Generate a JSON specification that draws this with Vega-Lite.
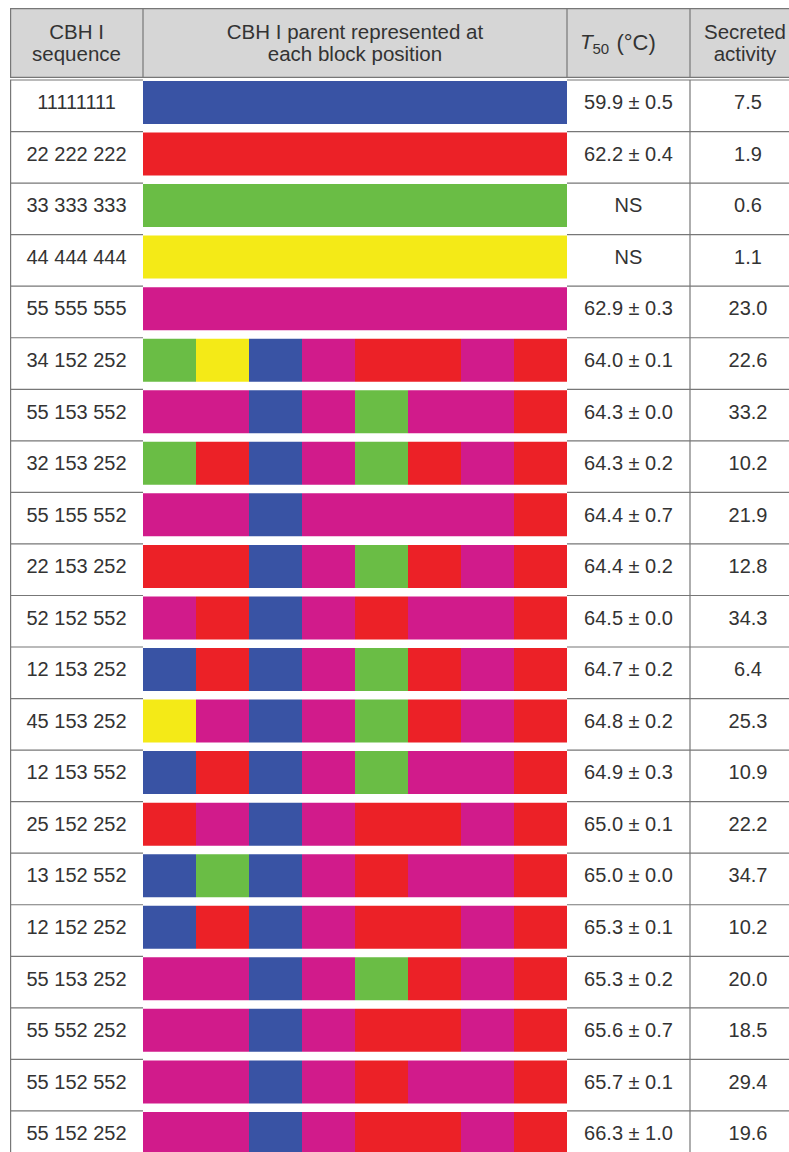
{
  "$schema": "https://vega.github.io/schema/vega-lite/v6.json",
  "padding": {"left": 9, "top": 7, "right": 0, "bottom": 0},
  "background": "white",
  "spacing": 0,
  "config": {
    "view": {"stroke": null},
    "text": {"font": "Liberation Sans", "color": "#333333"},
    "rule": {"color": "#777777", "strokeWidth": 1.2}
  },
  "datasets": {
    "rows": [
      {"seq": "11111111", "label": "11111111", "t50": "59.9 ± 0.5", "act": 7.5},
      {"seq": "22222222", "label": "22 222 222", "t50": "62.2 ± 0.4", "act": 1.9},
      {"seq": "33333333", "label": "33 333 333", "t50": "NS", "act": 0.6},
      {"seq": "44444444", "label": "44 444 444", "t50": "NS", "act": 1.1},
      {"seq": "55555555", "label": "55 555 555", "t50": "62.9 ± 0.3", "act": 23.0},
      {"seq": "34152252", "label": "34 152 252", "t50": "64.0 ± 0.1", "act": 22.6},
      {"seq": "55153552", "label": "55 153 552", "t50": "64.3 ± 0.0", "act": 33.2},
      {"seq": "32153252", "label": "32 153 252", "t50": "64.3 ± 0.2", "act": 10.2},
      {"seq": "55155552", "label": "55 155 552", "t50": "64.4 ± 0.7", "act": 21.9},
      {"seq": "22153252", "label": "22 153 252", "t50": "64.4 ± 0.2", "act": 12.8},
      {"seq": "52152552", "label": "52 152 552", "t50": "64.5 ± 0.0", "act": 34.3},
      {"seq": "12153252", "label": "12 153 252", "t50": "64.7 ± 0.2", "act": 6.4},
      {"seq": "45153252", "label": "45 153 252", "t50": "64.8 ± 0.2", "act": 25.3},
      {"seq": "12153552", "label": "12 153 552", "t50": "64.9 ± 0.3", "act": 10.9},
      {"seq": "25152252", "label": "25 152 252", "t50": "65.0 ± 0.1", "act": 22.2},
      {"seq": "13152552", "label": "13 152 552", "t50": "65.0 ± 0.0", "act": 34.7},
      {"seq": "12152252", "label": "12 152 252", "t50": "65.3 ± 0.1", "act": 10.2},
      {"seq": "55153252", "label": "55 153 252", "t50": "65.3 ± 0.2", "act": 20.0},
      {"seq": "55552252", "label": "55 552 252", "t50": "65.6 ± 0.7", "act": 18.5},
      {"seq": "55152552", "label": "55 152 552", "t50": "65.7 ± 0.1", "act": 29.4},
      {"seq": "55152252", "label": "55 152 252", "t50": "66.3 ± 1.0", "act": 19.6}
    ],
    "cells": [
      {"seq": "11111111", "block": 1, "parent": 1}, {"seq": "11111111", "block": 2, "parent": 1}, {"seq": "11111111", "block": 3, "parent": 1}, {"seq": "11111111", "block": 4, "parent": 1}, {"seq": "11111111", "block": 5, "parent": 1}, {"seq": "11111111", "block": 6, "parent": 1}, {"seq": "11111111", "block": 7, "parent": 1}, {"seq": "11111111", "block": 8, "parent": 1},
      {"seq": "22222222", "block": 1, "parent": 2}, {"seq": "22222222", "block": 2, "parent": 2}, {"seq": "22222222", "block": 3, "parent": 2}, {"seq": "22222222", "block": 4, "parent": 2}, {"seq": "22222222", "block": 5, "parent": 2}, {"seq": "22222222", "block": 6, "parent": 2}, {"seq": "22222222", "block": 7, "parent": 2}, {"seq": "22222222", "block": 8, "parent": 2},
      {"seq": "33333333", "block": 1, "parent": 3}, {"seq": "33333333", "block": 2, "parent": 3}, {"seq": "33333333", "block": 3, "parent": 3}, {"seq": "33333333", "block": 4, "parent": 3}, {"seq": "33333333", "block": 5, "parent": 3}, {"seq": "33333333", "block": 6, "parent": 3}, {"seq": "33333333", "block": 7, "parent": 3}, {"seq": "33333333", "block": 8, "parent": 3},
      {"seq": "44444444", "block": 1, "parent": 4}, {"seq": "44444444", "block": 2, "parent": 4}, {"seq": "44444444", "block": 3, "parent": 4}, {"seq": "44444444", "block": 4, "parent": 4}, {"seq": "44444444", "block": 5, "parent": 4}, {"seq": "44444444", "block": 6, "parent": 4}, {"seq": "44444444", "block": 7, "parent": 4}, {"seq": "44444444", "block": 8, "parent": 4},
      {"seq": "55555555", "block": 1, "parent": 5}, {"seq": "55555555", "block": 2, "parent": 5}, {"seq": "55555555", "block": 3, "parent": 5}, {"seq": "55555555", "block": 4, "parent": 5}, {"seq": "55555555", "block": 5, "parent": 5}, {"seq": "55555555", "block": 6, "parent": 5}, {"seq": "55555555", "block": 7, "parent": 5}, {"seq": "55555555", "block": 8, "parent": 5},
      {"seq": "34152252", "block": 1, "parent": 3}, {"seq": "34152252", "block": 2, "parent": 4}, {"seq": "34152252", "block": 3, "parent": 1}, {"seq": "34152252", "block": 4, "parent": 5}, {"seq": "34152252", "block": 5, "parent": 2}, {"seq": "34152252", "block": 6, "parent": 2}, {"seq": "34152252", "block": 7, "parent": 5}, {"seq": "34152252", "block": 8, "parent": 2},
      {"seq": "55153552", "block": 1, "parent": 5}, {"seq": "55153552", "block": 2, "parent": 5}, {"seq": "55153552", "block": 3, "parent": 1}, {"seq": "55153552", "block": 4, "parent": 5}, {"seq": "55153552", "block": 5, "parent": 3}, {"seq": "55153552", "block": 6, "parent": 5}, {"seq": "55153552", "block": 7, "parent": 5}, {"seq": "55153552", "block": 8, "parent": 2},
      {"seq": "32153252", "block": 1, "parent": 3}, {"seq": "32153252", "block": 2, "parent": 2}, {"seq": "32153252", "block": 3, "parent": 1}, {"seq": "32153252", "block": 4, "parent": 5}, {"seq": "32153252", "block": 5, "parent": 3}, {"seq": "32153252", "block": 6, "parent": 2}, {"seq": "32153252", "block": 7, "parent": 5}, {"seq": "32153252", "block": 8, "parent": 2},
      {"seq": "55155552", "block": 1, "parent": 5}, {"seq": "55155552", "block": 2, "parent": 5}, {"seq": "55155552", "block": 3, "parent": 1}, {"seq": "55155552", "block": 4, "parent": 5}, {"seq": "55155552", "block": 5, "parent": 5}, {"seq": "55155552", "block": 6, "parent": 5}, {"seq": "55155552", "block": 7, "parent": 5}, {"seq": "55155552", "block": 8, "parent": 2},
      {"seq": "22153252", "block": 1, "parent": 2}, {"seq": "22153252", "block": 2, "parent": 2}, {"seq": "22153252", "block": 3, "parent": 1}, {"seq": "22153252", "block": 4, "parent": 5}, {"seq": "22153252", "block": 5, "parent": 3}, {"seq": "22153252", "block": 6, "parent": 2}, {"seq": "22153252", "block": 7, "parent": 5}, {"seq": "22153252", "block": 8, "parent": 2},
      {"seq": "52152552", "block": 1, "parent": 5}, {"seq": "52152552", "block": 2, "parent": 2}, {"seq": "52152552", "block": 3, "parent": 1}, {"seq": "52152552", "block": 4, "parent": 5}, {"seq": "52152552", "block": 5, "parent": 2}, {"seq": "52152552", "block": 6, "parent": 5}, {"seq": "52152552", "block": 7, "parent": 5}, {"seq": "52152552", "block": 8, "parent": 2},
      {"seq": "12153252", "block": 1, "parent": 1}, {"seq": "12153252", "block": 2, "parent": 2}, {"seq": "12153252", "block": 3, "parent": 1}, {"seq": "12153252", "block": 4, "parent": 5}, {"seq": "12153252", "block": 5, "parent": 3}, {"seq": "12153252", "block": 6, "parent": 2}, {"seq": "12153252", "block": 7, "parent": 5}, {"seq": "12153252", "block": 8, "parent": 2},
      {"seq": "45153252", "block": 1, "parent": 4}, {"seq": "45153252", "block": 2, "parent": 5}, {"seq": "45153252", "block": 3, "parent": 1}, {"seq": "45153252", "block": 4, "parent": 5}, {"seq": "45153252", "block": 5, "parent": 3}, {"seq": "45153252", "block": 6, "parent": 2}, {"seq": "45153252", "block": 7, "parent": 5}, {"seq": "45153252", "block": 8, "parent": 2},
      {"seq": "12153552", "block": 1, "parent": 1}, {"seq": "12153552", "block": 2, "parent": 2}, {"seq": "12153552", "block": 3, "parent": 1}, {"seq": "12153552", "block": 4, "parent": 5}, {"seq": "12153552", "block": 5, "parent": 3}, {"seq": "12153552", "block": 6, "parent": 5}, {"seq": "12153552", "block": 7, "parent": 5}, {"seq": "12153552", "block": 8, "parent": 2},
      {"seq": "25152252", "block": 1, "parent": 2}, {"seq": "25152252", "block": 2, "parent": 5}, {"seq": "25152252", "block": 3, "parent": 1}, {"seq": "25152252", "block": 4, "parent": 5}, {"seq": "25152252", "block": 5, "parent": 2}, {"seq": "25152252", "block": 6, "parent": 2}, {"seq": "25152252", "block": 7, "parent": 5}, {"seq": "25152252", "block": 8, "parent": 2},
      {"seq": "13152552", "block": 1, "parent": 1}, {"seq": "13152552", "block": 2, "parent": 3}, {"seq": "13152552", "block": 3, "parent": 1}, {"seq": "13152552", "block": 4, "parent": 5}, {"seq": "13152552", "block": 5, "parent": 2}, {"seq": "13152552", "block": 6, "parent": 5}, {"seq": "13152552", "block": 7, "parent": 5}, {"seq": "13152552", "block": 8, "parent": 2},
      {"seq": "12152252", "block": 1, "parent": 1}, {"seq": "12152252", "block": 2, "parent": 2}, {"seq": "12152252", "block": 3, "parent": 1}, {"seq": "12152252", "block": 4, "parent": 5}, {"seq": "12152252", "block": 5, "parent": 2}, {"seq": "12152252", "block": 6, "parent": 2}, {"seq": "12152252", "block": 7, "parent": 5}, {"seq": "12152252", "block": 8, "parent": 2},
      {"seq": "55153252", "block": 1, "parent": 5}, {"seq": "55153252", "block": 2, "parent": 5}, {"seq": "55153252", "block": 3, "parent": 1}, {"seq": "55153252", "block": 4, "parent": 5}, {"seq": "55153252", "block": 5, "parent": 3}, {"seq": "55153252", "block": 6, "parent": 2}, {"seq": "55153252", "block": 7, "parent": 5}, {"seq": "55153252", "block": 8, "parent": 2},
      {"seq": "55552252", "block": 1, "parent": 5}, {"seq": "55552252", "block": 2, "parent": 5}, {"seq": "55552252", "block": 3, "parent": 1}, {"seq": "55552252", "block": 4, "parent": 5}, {"seq": "55552252", "block": 5, "parent": 2}, {"seq": "55552252", "block": 6, "parent": 2}, {"seq": "55552252", "block": 7, "parent": 5}, {"seq": "55552252", "block": 8, "parent": 2},
      {"seq": "55152552", "block": 1, "parent": 5}, {"seq": "55152552", "block": 2, "parent": 5}, {"seq": "55152552", "block": 3, "parent": 1}, {"seq": "55152552", "block": 4, "parent": 5}, {"seq": "55152552", "block": 5, "parent": 2}, {"seq": "55152552", "block": 6, "parent": 5}, {"seq": "55152552", "block": 7, "parent": 5}, {"seq": "55152552", "block": 8, "parent": 2},
      {"seq": "55152252", "block": 1, "parent": 5}, {"seq": "55152252", "block": 2, "parent": 5}, {"seq": "55152252", "block": 3, "parent": 1}, {"seq": "55152252", "block": 4, "parent": 5}, {"seq": "55152252", "block": 5, "parent": 2}, {"seq": "55152252", "block": 6, "parent": 2}, {"seq": "55152252", "block": 7, "parent": 5}, {"seq": "55152252", "block": 8, "parent": 2}
    ]
  },
  "vconcat": [
    {
      "spacing": 0,
      "bounds": "flush",
      "hconcat": [
        {
          "width": 133, "height": 70,
          "view": {"fill": "#d6d6d6", "stroke": null},
          "data": {"values": [{"label": "CBH I\nsequence"}]},
          "layer": [
            {"mark": {"type": "rule"}, "encoding": {"y": {"value": 0.6}}},
            {"mark": {"type": "rule"}, "encoding": {"y": {"value": 69.4}}},
            {"mark": {"type": "rule"}, "encoding": {"x": {"value": 0.6}}},
            {"mark": {"type": "text", "lineBreak": "\n", "fontSize": 20.5, "lineHeight": 22, "yOffset": -10}, "encoding": {"text": {"field": "label"}}}
          ]
        },
        {
          "width": 424, "height": 70,
          "view": {"fill": "#d6d6d6", "stroke": null},
          "data": {"values": [{"label": "CBH I parent represented at\neach block position"}]},
          "layer": [
            {"mark": {"type": "rule"}, "encoding": {"y": {"value": 0.6}}},
            {"mark": {"type": "rule"}, "encoding": {"y": {"value": 69.4}}},
            {"mark": {"type": "rule"}, "encoding": {"x": {"value": 0}}},
            {"mark": {"type": "text", "lineBreak": "\n", "fontSize": 20.5, "lineHeight": 22, "yOffset": -10}, "encoding": {"text": {"field": "label"}}}
          ]
        },
        {
          "width": 123, "height": 70,
          "view": {"fill": "#d6d6d6", "stroke": null},
          "data": {"values": [{"t": "T", "sub": "50", "unit": "(°C)"}]},
          "layer": [
            {"mark": {"type": "rule"}, "encoding": {"y": {"value": 0.6}}},
            {"mark": {"type": "rule"}, "encoding": {"y": {"value": 69.4}}},
            {"mark": {"type": "rule"}, "encoding": {"x": {"value": 0}}},
            {"mark": {"type": "text", "fontSize": 21, "fontStyle": "italic", "align": "left", "dx": -48.5, "yOffset": 0}, "encoding": {"text": {"field": "t"}}},
            {"mark": {"type": "text", "fontSize": 15, "align": "left", "dx": -36, "yOffset": 6}, "encoding": {"text": {"field": "sub"}}},
            {"mark": {"type": "text", "fontSize": 22, "align": "left", "dx": -12, "yOffset": 0}, "encoding": {"text": {"field": "unit"}}}
          ]
        },
        {
          "width": 100, "height": 70,
          "view": {"fill": "#d6d6d6", "stroke": null},
          "data": {"values": [{"label": "Secreted\nactivity"}]},
          "layer": [
            {"mark": {"type": "rule"}, "encoding": {"y": {"value": 0.6}}},
            {"mark": {"type": "rule"}, "encoding": {"y": {"value": 69.4}}},
            {"mark": {"type": "rule"}, "encoding": {"x": {"value": 0}}},
            {"mark": {"type": "text", "lineBreak": "\n", "fontSize": 20.5, "lineHeight": 22, "yOffset": -10, "dx": 5}, "encoding": {"text": {"field": "label"}}}
          ]
        }
      ]
    },
    {
      "spacing": 0,
      "bounds": "flush",
      "hconcat": [
        {
          "width": 133, "height": 1074,
          "data": {"name": "rows"},
          "layer": [
            {"mark": {"type": "rule"}, "encoding": {"y": {"field": "seq", "type": "ordinal", "sort": null, "bandPosition": 0, "axis": null, "scale": {"range": [0, 1082.5], "paddingInner": 0, "paddingOuter": 0}}}},
            {"data": {"values": [{"edge": "left"}]}, "mark": {"type": "rule"}, "encoding": {"x": {"value": 0.6}}},
            {"mark": {"type": "text", "fontSize": 20, "yOffset": -2.5}, "encoding": {"y": {"field": "seq", "type": "ordinal", "sort": null, "axis": null, "scale": {"range": [0, 1082.5], "paddingInner": 0, "paddingOuter": 0}}, "text": {"field": "label"}}}
          ]
        },
        {
          "width": 424, "height": 1074,
          "data": {"name": "cells"},
          "mark": {"type": "rect", "height": 43, "yOffset": -3.3, "clip": true},
          "encoding": {
            "x": {"field": "block", "type": "ordinal", "axis": null, "scale": {"paddingInner": 0, "paddingOuter": 0}},
            "y": {"field": "seq", "type": "ordinal", "sort": null, "axis": null, "scale": {"range": [0, 1082.5], "paddingInner": 0, "paddingOuter": 0}},
            "color": {"field": "parent", "type": "nominal", "legend": null, "scale": {"domain": [1, 2, 3, 4, 5], "range": ["#3953a4", "#ec2127", "#6abd45", "#f4ea17", "#d11b8b"]}}
          }
        },
        {
          "width": 123, "height": 1074,
          "data": {"name": "rows"},
          "layer": [
            {"mark": {"type": "rule"}, "encoding": {"y": {"field": "seq", "type": "ordinal", "sort": null, "bandPosition": 0, "axis": null, "scale": {"range": [0, 1082.5], "paddingInner": 0, "paddingOuter": 0}}}},
            {"mark": {"type": "text", "fontSize": 20, "yOffset": -2.5}, "encoding": {"y": {"field": "seq", "type": "ordinal", "sort": null, "axis": null, "scale": {"range": [0, 1082.5], "paddingInner": 0, "paddingOuter": 0}}, "text": {"field": "t50"}}}
          ]
        },
        {
          "width": 100, "height": 1074,
          "data": {"name": "rows"},
          "layer": [
            {"mark": {"type": "rule"}, "encoding": {"y": {"field": "seq", "type": "ordinal", "sort": null, "bandPosition": 0, "axis": null, "scale": {"range": [0, 1082.5], "paddingInner": 0, "paddingOuter": 0}}}},
            {"data": {"values": [{"edge": "left"}]}, "mark": {"type": "rule"}, "encoding": {"x": {"value": 0}}},
            {"mark": {"type": "text", "fontSize": 20, "yOffset": -2.5, "dx": 8}, "encoding": {"y": {"field": "seq", "type": "ordinal", "sort": null, "axis": null, "scale": {"range": [0, 1082.5], "paddingInner": 0, "paddingOuter": 0}}, "text": {"field": "act", "format": ".1f"}}}
          ]
        }
      ]
    }
  ]
}
